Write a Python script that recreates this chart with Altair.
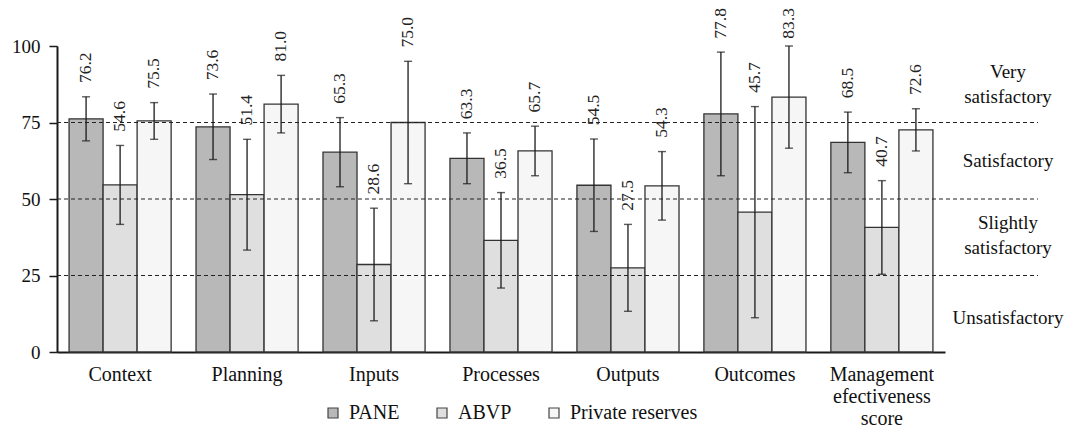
import altair as alt
import pandas as pd

categories = ["Context", "Planning", "Inputs", "Processes", "Outputs", "Outcomes",
              "Management efectiveness score"]
groups = ["PANE", "ABVP", "Private reserves"]
pane = [76.2, 73.6, 65.3, 63.3, 54.5, 77.8, 68.5]
abvp = [54.6, 51.4, 28.6, 36.5, 27.5, 45.7, 40.7]
priv = [75.5, 81.0, 75.0, 65.7, 54.3, 83.3, 72.6]
pane_sd = [7.2, 10.7, 11.3, 8.3, 15.1, 20.2, 9.9]
abvp_sd = [12.9, 18.1, 18.4, 15.6, 14.2, 34.5, 15.3]
priv_sd = [6.0, 9.4, 20.0, 8.1, 11.2, 16.7, 6.9]
thresholds = [25, 50, 75]
band_labels = ["Very\nsatisfactory", "Satisfactory", "Slightly\nsatisfactory", "Unsatisfactory"]
band_y = [91.5, 62.5, 42, 11]
colors = ["#b8b8b8", "#dfdfdf", "#f6f6f6"]

rows = []
for g, vals, sds in zip(groups, [pane, abvp, priv], [pane_sd, abvp_sd, priv_sd]):
    for c, v, s in zip(categories, vals, sds):
        rows.append({"category": c, "group": g, "value": v, "sd": s})
df = pd.DataFrame(rows)

FONT = "Liberation Serif"

x = alt.X("category:N", sort=categories,
          scale=alt.Scale(paddingInner=0.196, paddingOuter=0.095),
          axis=alt.Axis(title=None, labelAngle=0, ticks=False, domainWidth=2,
                        domainColor="#1a1a1a", labelFont=FONT, labelFontSize=20,
                        labelColor="#111", labelPadding=12, labelLineHeight=22,
                        labelExpr="datum.value == 'Management efectiveness score' ? ['Management','efectiveness','score'] : datum.label"))
xo = alt.XOffset("group:N", sort=groups, scale=alt.Scale(paddingInner=0, paddingOuter=0))
yscale = alt.Scale(domain=[0, 100], nice=False)

base = alt.Chart(df).transform_calculate(
    upper="datum.value + datum.sd",
    lower="datum.value - datum.sd",
    labpos="min(datum.value + datum.sd + 4.5, 102.4)",
)

bars = base.mark_bar(stroke="#333333", strokeWidth=1.3).encode(
    x=x, xOffset=xo,
    y=alt.Y("value:Q", scale=yscale,
            axis=alt.Axis(title=None, values=[0, 25, 50, 75, 100], grid=False,
                          domainWidth=2, domainColor="#1a1a1a", tickColor="#1a1a1a",
                          tickSize=8, tickWidth=1.5, labelFont=FONT, labelFontSize=19,
                          labelColor="#111", labelPadding=9)),
    fill=alt.Fill("group:N", sort=groups,
                  scale=alt.Scale(domain=groups, range=colors),
                  legend=alt.Legend(title=None, orient="none", legendX=266, legendY=357,
                                    direction="horizontal", columns=3, columnPadding=32,
                                    symbolType="square", symbolSize=100, labelOffset=6,
                                    symbolStrokeColor="#444", symbolStrokeWidth=1.2,
                                    labelFont=FONT, labelFontSize=20, labelColor="#111",
                                    gridAlign="each", symbolOpacity=1)),
)

dash = alt.Chart(pd.DataFrame({"t": thresholds})).mark_rule(
    color="#222", strokeDash=[4, 3], strokeWidth=1.1
).encode(y=alt.Y("t:Q", scale=yscale), x=alt.value(0), x2=alt.value(981))

err = base.mark_rule(color="#1a1a1a", strokeWidth=1.3).encode(
    x=x, xOffset=xo, y=alt.Y("lower:Q", scale=yscale), y2="upper:Q")
cap_hi = base.mark_tick(color="#1a1a1a", size=8, thickness=1.4).encode(
    x=x, xOffset=xo, y=alt.Y("upper:Q", scale=yscale))
cap_lo = base.mark_tick(color="#1a1a1a", size=8, thickness=1.4).encode(
    x=x, xOffset=xo, y=alt.Y("lower:Q", scale=yscale))

labels = base.mark_text(angle=270, align="left", baseline="middle", font=FONT,
                        fontSize=17.5, color="#222").encode(
    x=x, xOffset=xo, y=alt.Y("labpos:Q", scale=yscale),
    text=alt.Text("value:Q", format=".1f"))

bandtext = alt.Chart(pd.DataFrame({"lab": band_labels, "ypos": band_y})).mark_text(
    align="center", baseline="middle", font=FONT, fontSize=19, color="#111",
    lineBreak="\n", lineHeight=25
).encode(y=alt.Y("ypos:Q", scale=yscale), x=alt.value(951), text="lab:N")

chart = alt.layer(bars, dash, err, cap_hi, cap_lo, labels, bandtext).properties(
    width=888, height=306,
    background="white",
    autosize=alt.AutoSizeParams(type="none"),
    padding={"left": 49, "top": 38, "right": 122, "bottom": 78},
).configure_view(strokeWidth=0, stroke=None)

chart.save("out.html", embed_options={"renderer": "svg", "actions": False})
